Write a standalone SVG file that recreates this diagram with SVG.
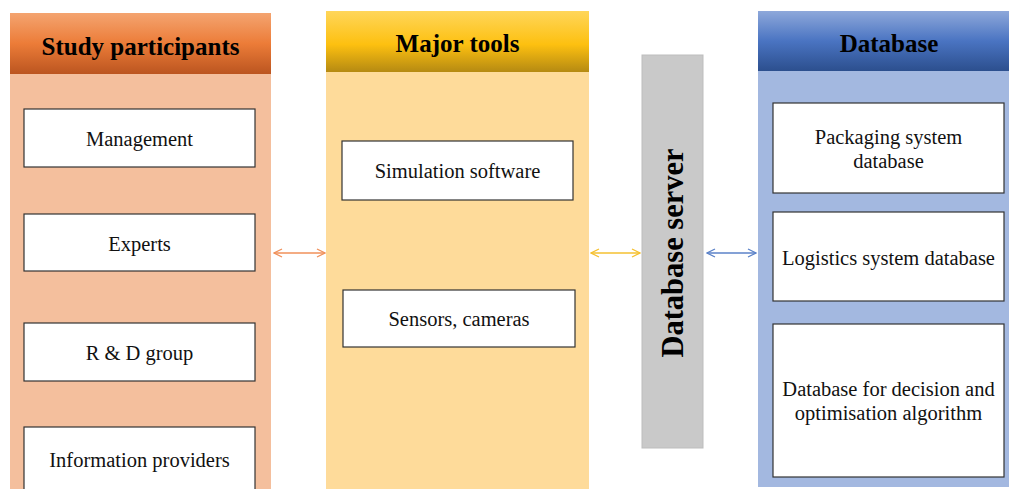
<svg xmlns="http://www.w3.org/2000/svg" width="1009" height="489" viewBox="0 0 1009 489">
<defs>
<linearGradient id="gO" x1="0" y1="0" x2="0" y2="1"><stop offset="0" stop-color="#F4A470"/><stop offset="0.5" stop-color="#EC7C38"/><stop offset="1" stop-color="#BB5520"/></linearGradient>
<linearGradient id="gY" x1="0" y1="0" x2="0" y2="1"><stop offset="0" stop-color="#FFD65A"/><stop offset="0.55" stop-color="#FDC010"/><stop offset="1" stop-color="#B58A12"/></linearGradient>
<linearGradient id="gB" x1="0" y1="0" x2="0" y2="1"><stop offset="0" stop-color="#8EA8DA"/><stop offset="0.5" stop-color="#4A74C2"/><stop offset="1" stop-color="#2C4F8E"/></linearGradient>
<marker id="mO" viewBox="0 0 10 10" refX="9" refY="5" markerWidth="10" markerHeight="10" markerUnits="userSpaceOnUse" orient="auto-start-reverse"><path d="M1,1 L9,5 L1,9" fill="none" stroke="#F0905A" stroke-width="1.3"/></marker>
<marker id="mY" viewBox="0 0 10 10" refX="9" refY="5" markerWidth="10" markerHeight="10" markerUnits="userSpaceOnUse" orient="auto-start-reverse"><path d="M1,1 L9,5 L1,9" fill="none" stroke="#F5C030" stroke-width="1.3"/></marker>
<marker id="mB" viewBox="0 0 10 10" refX="9" refY="5" markerWidth="10" markerHeight="10" markerUnits="userSpaceOnUse" orient="auto-start-reverse"><path d="M1,1 L9,5 L1,9" fill="none" stroke="#5B82C8" stroke-width="1.3"/></marker>
</defs>
<style>
.box{fill:#fff;stroke:#333;stroke-width:1.2}
.t{font-family:"Liberation Serif","Times New Roman",serif;font-size:20.5px;fill:#111;text-anchor:middle}
.h{font-family:"Liberation Serif","Times New Roman",serif;font-size:25px;font-weight:bold;fill:#000;text-anchor:middle}
</style>
<rect width="1009" height="489" fill="#fff"/>
<g id="col-participants">
<rect x="10" y="74" width="261" height="415" fill="#F4BF9D"/>
<rect x="10" y="13" width="261" height="61" fill="url(#gO)"/>
<text class="h" x="140.5" y="55">Study participants</text>
</g>
<g id="col-tools">
<rect x="326" y="72" width="263" height="417" fill="#FEDB9A"/>
<rect x="326" y="11" width="263" height="61" fill="url(#gY)"/>
<text class="h" x="457.5" y="52">Major tools</text>
</g>
<g id="col-database">
<rect x="758" y="71" width="251" height="416" fill="#A3B8E0"/>
<rect x="758" y="11" width="251" height="60" fill="url(#gB)"/>
<text class="h" x="889" y="52">Database</text>
</g>
<g id="n-management"><rect class="box" x="24" y="109" width="231" height="58"/><text class="t" x="139.5" y="146">Management</text></g>
<g id="n-experts"><rect class="box" x="24" y="214" width="231" height="57"/><text class="t" x="139.5" y="251">Experts</text></g>
<g id="n-rd"><rect class="box" x="24" y="323" width="231" height="58"/><text class="t" x="139.5" y="360">R &amp; D group</text></g>
<g id="n-info"><rect class="box" x="24" y="427" width="231" height="66"/><text class="t" x="139.5" y="467">Information providers</text></g>
<g id="n-sim"><rect class="box" x="342" y="141" width="231" height="59"/><text class="t" x="457.5" y="178">Simulation software</text></g>
<g id="n-sensors"><rect class="box" x="343" y="290" width="232" height="57"/><text class="t" x="459" y="326">Sensors, cameras</text></g>
<g id="n-packaging"><rect class="box" x="773" y="103" width="231" height="90"/><text class="t" x="888.5" y="144">Packaging system</text><text class="t" x="888.5" y="168">database</text></g>
<g id="n-logistics"><rect class="box" x="773" y="212" width="231" height="89"/><text class="t" x="888.5" y="265">Logistics system database</text></g>
<g id="n-decision"><rect class="box" x="773" y="324" width="231" height="153"/><text class="t" x="888.5" y="396">Database for decision and</text><text class="t" x="888.5" y="420">optimisation algorithm</text></g>
<g id="n-server">
<rect x="642" y="55" width="61" height="393" fill="#C9C9C9" stroke="#BDBDBD" stroke-width="1"/>
<text transform="translate(683,253) rotate(-90)" font-family="Liberation Serif, Times New Roman, serif" font-size="30.5" font-weight="bold" fill="#000" text-anchor="middle">Database server</text>
</g>
<g id="connectors" fill="none" stroke-width="1.3">
<line x1="274" y1="253" x2="325" y2="253" stroke="#F0905A" marker-start="url(#mO)" marker-end="url(#mO)"/>
<line x1="591" y1="253" x2="640" y2="253" stroke="#F5C030" marker-start="url(#mY)" marker-end="url(#mY)"/>
<line x1="707" y1="253" x2="756" y2="253" stroke="#5B82C8" marker-start="url(#mB)" marker-end="url(#mB)"/>
</g>
</svg>
